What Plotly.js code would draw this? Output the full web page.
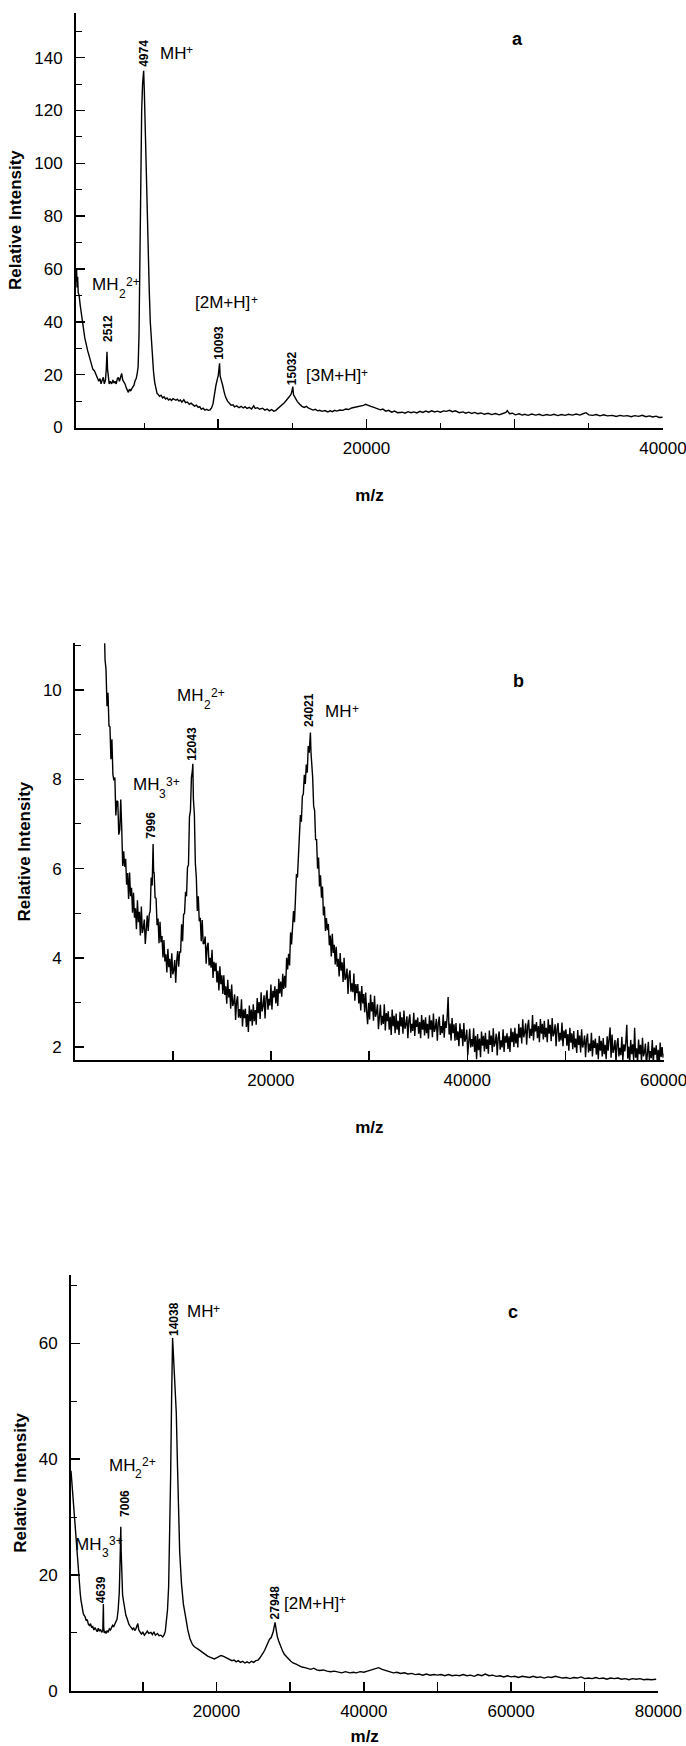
<!DOCTYPE html>
<html>
<head>
<meta charset="utf-8">
<script src="https://cdn.plot.ly/plotly-3.0.1.min.js"></script>
<style>html,body{margin:0;padding:0;background:#fff;}#chart{width:686px;height:1746px;}</style>
</head>
<body>
<div id="chart"></div>
<script>
// ---------- DATA ----------
// Panel a: [m/z, relative intensity]
const specA = [[410,55],[450,60],[480,53],[520,57],[560,51],[620,50],[700,46],[800,41],[900,38],[1000,34],[1100,31],[1200,29],[1300,27],[1400,25],[1470,24],[1550,22],[1650,21.5],[1750,20],[1850,18.5],[1950,17.5],[2030,18.5],[2100,16.5],[2180,18],[2253,19],[2320,16.5],[2400,18],[2450,22],[2500,28.7],[2540,22],[2590,18],[2650,16.5],[2720,17.5],[2815,16.5],[2900,18],[2970,16.8],[3040,17.5],[3120,16.5],[3200,18.5],[3265,18.9],[3340,17.5],[3420,19.5],[3490,20.5],[3560,18],[3640,17.2],[3715,16.5],[3800,15],[3870,14.2],[3940,13.3],[4020,14.5],[4100,13.8],[4165,14.6],[4250,15.5],[4320,16],[4390,17.6],[4470,18.5],[4540,20.5],[4600,23],[4660,35],[4720,70],[4780,100],[4840,120],[4900,130],[4974,135],[5020,127],[5080,112],[5130,100],[5180,88],[5230,78],[5290,68],[5350,52],[5420,40],[5500,31],[5570,25],[5640,21],[5720,17],[5800,14.5],[5880,12.8],[5960,12.5],[6050,11.8],[6150,12.2],[6250,11.2],[6350,11.6],[6450,10.8],[6550,11.2],[6650,10.4],[6750,10.8],[6850,10.2],[6950,10.9],[7050,10.6],[7150,10.3],[7250,10.7],[7350,10],[7450,10.4],[7550,9.6],[7680,10.5],[7800,9.4],[7920,9.6],[8050,8.8],[8170,9.2],[8270,8.6],[8400,8.1],[8530,8.5],[8650,7.6],[8760,7.9],[8860,6.9],[8980,7.3],[9100,6.6],[9220,6.9],[9330,6.5],[9450,6.7],[9560,7.5],[9650,9],[9750,13],[9850,16],[9950,18.5],[10000,19.5],[10050,22],[10093,24.3],[10130,19.5],[10200,18.2],[10300,16],[10400,13.5],[10500,11.5],[10630,10],[10750,9],[10870,8.4],[11000,8.6],[11100,7.8],[11250,8.2],[11400,7.5],[11550,8],[11700,7.4],[11810,7.9],[11950,7.2],[12100,7.6],[12250,7],[12400,8.2],[12500,7.2],[12650,7.5],[12800,6.9],[12990,7.3],[13150,6.6],[13300,7],[13450,6.3],[13600,6.8],[13750,6.2],[13870,6.4],[14000,7],[14150,7.8],[14300,8.6],[14460,9.4],[14600,10.3],[14750,11.5],[14900,12.4],[14960,13.4],[15032,15.5],[15080,12.4],[15200,11],[15340,9.8],[15500,8.8],[15650,8],[15800,7.6],[15950,8],[16100,7.3],[16220,7.1],[16400,6.6],[16550,6.9],[16700,6.3],[16850,6.5],[17000,6.1],[17200,6.4],[17400,5.9],[17550,6.3],[17700,6],[17850,6.5],[18000,6.2],[18200,6.6],[18400,6.5],[18600,7],[18800,6.8],[19000,7.4],[19200,7.6],[19400,8],[19600,8.2],[19800,8.4],[19940,8.8],[20100,8.3],[20300,8],[20500,7.6],[20700,7.1],[20940,6.7],[21100,7],[21300,6.2],[21500,6.5],[21700,5.8],[21900,6.2],[22100,5.6],[22420,5.8],[22600,5.4],[22800,6],[23000,5.6],[23200,5.9],[23400,5.5],[23600,6.1],[23800,5.7],[24000,6.2],[24200,5.8],[24400,6.3],[24600,5.9],[24780,6.2],[25000,5.8],[25200,6.3],[25400,6.1],[25600,6.5],[25800,6],[26000,6.3],[26260,5.6],[26500,5.9],[26700,5.4],[26900,5.8],[27100,5.3],[27300,5.7],[27500,5.2],[27730,5.5],[27950,5],[28200,5.4],[28450,4.9],[28700,5.3],[28950,4.8],[29200,5.3],[29400,5.7],[29500,6.4],[29650,5.2],[29850,5.4],[30050,4.8],[30300,5.2],[30500,4.7],[30680,5],[30900,4.6],[31150,5.1],[31400,4.7],[31650,5],[31900,4.5],[32150,4.9],[32400,4.6],[32650,5],[32900,4.5],[33150,4.9],[33400,4.6],[33630,5],[33900,4.7],[34150,5.1],[34400,4.7],[34600,5.2],[34810,5.6],[35000,4.8],[35250,4.6],[35500,4.9],[35750,4.4],[36000,4.8],[36250,4.4],[36580,4.6],[36850,4.2],[37100,4.6],[37350,4.3],[37600,4.5],[37850,4.1],[38100,4.5],[38350,4.2],[38600,4.6],[38850,4.1],[39100,4.4],[39300,4],[39530,4.3],[39750,3.8],[39970,3.9]];

// Panel b: [m/z, relative intensity]
const specB = [[3000,11.76],[3100,10.68],[3200,10.46],[3300,9.64],[3400,9.94],[3500,9.2],[3600,9.18],[3700,8.45],[3800,8.9],[3900,8.11],[4000,7.98],[4100,8.04],[4200,7.19],[4300,7.52],[4400,7.5],[4500,6.76],[4600,6.87],[4700,7.55],[4800,6.91],[4900,6.06],[5000,6.39],[5100,6.04],[5200,6.22],[5300,5.64],[5400,5.9],[5500,5.32],[5600,5.91],[5700,5.38],[5800,5.57],[5900,5.01],[6000,5.46],[6100,4.9],[6200,5.11],[6300,4.64],[6400,5.29],[6500,4.8],[6600,5.03],[6700,4.5],[6800,5.15],[6900,4.56],[7000,4.66],[7100,4.86],[7200,4.31],[7300,4.75],[7400,4.95],[7500,4.6],[7600,4.97],[7700,5.05],[7800,5.8],[7900,5.62],[7996,6.55],[8050,5.9],[8100,5.92],[8200,5.35],[8300,5.33],[8400,4.73],[8500,4.88],[8600,4.33],[8700,4.81],[8800,4.35],[8900,4.49],[9000,4.01],[9100,4.4],[9200,3.92],[9300,4.08],[9400,3.67],[9500,4.2],[9600,3.79],[9700,3.98],[9800,3.55],[9900,4.1],[10000,3.63],[10100,3.72],[10200,3.95],[10300,3.44],[10400,3.93],[10500,4.15],[10600,3.8],[10700,4.14],[10800,4.12],[10900,4.75],[11000,4.37],[11100,4.97],[11200,5.0],[11300,5.48],[11400,5.38],[11500,6.03],[11600,6.08],[11700,7.16],[11800,7.3],[11900,8.04],[12000,8.2],[12043,8.35],[12100,7.56],[12200,7.22],[12300,6.12],[12400,5.8],[12500,5.05],[12600,5.38],[12700,4.82],[12800,4.9],[12900,4.37],[13000,4.85],[13100,4.31],[13200,4.33],[13300,4.48],[13400,3.87],[13500,4.25],[13600,4.34],[13700,3.83],[13800,4.0],[13900,3.78],[14000,4.18],[14100,3.55],[14200,3.91],[14300,3.7],[14400,3.89],[14500,3.45],[14600,3.71],[14700,3.27],[14800,3.81],[14900,3.41],[15000,3.61],[15100,3.19],[15200,3.61],[15300,3.17],[15400,3.36],[15500,2.97],[15600,3.51],[15700,3.11],[15800,3.3],[15900,2.86],[16000,3.4],[16100,2.92],[16200,2.99],[16300,3.18],[16400,2.61],[16500,3.02],[16600,3.14],[16700,2.66],[16800,2.85],[16900,2.65],[17000,3.07],[17100,2.46],[17200,2.84],[17300,2.65],[17400,2.86],[17500,2.45],[17600,2.74],[17700,2.34],[17800,2.93],[17900,2.58],[18000,2.84],[18100,2.48],[18200,2.96],[18300,2.58],[18400,2.83],[18500,2.5],[18600,3.1],[18700,2.76],[18800,3.01],[18900,2.63],[19000,3.23],[19100,2.8],[19200,2.92],[19300,3.16],[19400,2.64],[19500,3.1],[19600,3.27],[19700,2.84],[19800,3.08],[19900,2.93],[20000,3.4],[20100,2.84],[20200,3.26],[20300,3.11],[20400,3.36],[20500,2.98],[20600,3.3],[20700,2.92],[20800,3.53],[20900,3.2],[21000,3.47],[21100,3.13],[21200,3.64],[21300,3.3],[21400,3.6],[21500,3.33],[21600,4.0],[21700,3.74],[21800,4.09],[21900,3.83],[22000,4.57],[22100,4.3],[22200,4.6],[22300,5.05],[22400,4.8],[22500,5.48],[22600,5.88],[22700,5.8],[22800,6.34],[22900,6.5],[23000,7.2],[23100,7.05],[23200,7.62],[23300,7.67],[23400,8.1],[23500,7.9],[23600,8.33],[23700,8.15],[23800,8.75],[23900,8.6],[23960,8.8],[24021,9.05],[24080,8.6],[24150,8.35],[24250,8.05],[24350,7.4],[24450,7.3],[24550,6.65],[24650,6.65],[24750,6.0],[24850,6.25],[24950,5.6],[25050,5.85],[25150,5.35],[25250,5.6],[25350,4.95],[25450,5.15],[25550,4.6],[25650,4.89],[25750,4.62],[25850,4.76],[25950,4.28],[26050,4.5],[26150,4.03],[26250,4.54],[26350,4.11],[26450,4.29],[26550,3.85],[26650,4.25],[26750,3.8],[26850,3.98],[26950,3.58],[27050,4.11],[27150,3.71],[27250,3.9],[27350,3.46],[27450,4.0],[27550,3.51],[27650,3.57],[27750,3.76],[27850,3.19],[27950,3.6],[28050,3.72],[28150,3.24],[28250,3.43],[28350,3.23],[28450,3.65],[28550,3.04],[28650,3.41],[28750,3.21],[28850,3.41],[28950,2.98],[29050,3.25],[29150,2.82],[29250,3.37],[29350,2.98],[29450,3.19],[29550,2.78],[29650,3.22],[29750,2.8],[29850,2.51],[29950,2.99],[30050,2.62],[30150,3.18],[30250,2.8],[30350,3.01],[30450,2.59],[30550,3.15],[30650,2.68],[30750,2.76],[30850,2.96],[30950,2.4],[31050,2.82],[31150,2.95],[31250,2.49],[31350,2.7],[31450,2.52],[31550,2.96],[31650,2.37],[31750,2.76],[31850,2.58],[31950,2.8],[32050,2.39],[32150,2.68],[32250,2.27],[32350,2.84],[32450,2.47],[32550,2.7],[32650,2.31],[32750,2.75],[32850,2.39],[32950,2.59],[33050,2.27],[33150,2.79],[33250,2.46],[33350,2.67],[33450,2.3],[33550,2.82],[33650,2.41],[33750,2.5],[33850,2.69],[33950,2.2],[34050,2.6],[34150,2.73],[34250,2.32],[34350,2.52],[34450,2.36],[34550,2.77],[34650,2.25],[34750,2.61],[34850,2.45],[34950,2.66],[35050,2.3],[35150,2.56],[35250,2.2],[35350,2.72],[35450,2.39],[35550,2.61],[35650,2.26],[35750,2.67],[35850,2.31],[35950,2.52],[36050,2.19],[36150,2.71],[36250,2.39],[36350,2.6],[36450,2.22],[36550,2.75],[36650,2.34],[36750,2.43],[36850,2.63],[36950,2.14],[37050,2.54],[37150,2.68],[37250,2.27],[37350,2.47],[37450,2.31],[37550,2.73],[37650,2.21],[37750,2.58],[37850,2.43],[37950,2.66],[38050,3.12],[38150,2.28],[38250,2.53],[38350,2.15],[38450,2.65],[38550,2.31],[38650,2.51],[38750,2.14],[38850,2.54],[38950,2.16],[39050,2.35],[39150,2.02],[39250,2.53],[39350,2.2],[39450,2.4],[39550,2.02],[39650,2.54],[39750,2.12],[39850,2.2],[39950,2.39],[40050,1.82],[40150,2.28],[40250,2.41],[40350,1.99],[40450,2.18],[40550,2.01],[40650,2.42],[40750,1.89],[40850,2.25],[40950,1.73],[41050,2.29],[41150,1.93],[41250,2.19],[41350,1.77],[41450,2.35],[41550,2.03],[41650,2.25],[41750,1.9],[41850,2.32],[41950,1.96],[42050,2.17],[42150,1.85],[42250,2.37],[42350,2.05],[42450,2.26],[42550,1.89],[42650,2.42],[42750,2.01],[42850,2.1],[42950,2.3],[43050,1.81],[43150,2.21],[43250,2.35],[43350,1.94],[43450,2.15],[43550,1.99],[43650,2.4],[43750,1.89],[43850,2.25],[43950,2.1],[44050,2.31],[44150,1.96],[44250,2.24],[44350,1.89],[44450,2.42],[44550,2.11],[44650,2.34],[44750,2.0],[44850,2.43],[44950,2.08],[45050,2.3],[45150,1.99],[45250,2.52],[45350,2.21],[45450,2.44],[45550,2.08],[45650,2.62],[45750,2.22],[45850,2.32],[45950,2.53],[46050,2.05],[46150,2.46],[46250,2.61],[46350,2.2],[46450,2.41],[46550,2.25],[46650,2.72],[46750,2.15],[46850,2.51],[46950,2.35],[47050,2.56],[47150,2.2],[47250,2.47],[47350,2.11],[47450,2.63],[47550,2.3],[47650,2.52],[47750,2.17],[47850,2.59],[47950,2.22],[48050,2.43],[48150,2.11],[48250,2.62],[48350,2.3],[48450,2.5],[48550,2.13],[48650,2.65],[48750,2.24],[48850,2.32],[48950,2.51],[49050,2.02],[49150,2.41],[49250,2.54],[49350,2.12],[49450,2.32],[49550,2.15],[49650,2.55],[49750,2.02],[49850,2.37],[49950,2.2],[50050,2.4],[50150,2.03],[50250,2.29],[50350,1.92],[50450,2.43],[50550,2.1],[50650,2.31],[50750,1.95],[50850,2.36],[50950,1.99],[51050,2.19],[51150,1.87],[51250,2.38],[51350,2.05],[51450,2.26],[51550,1.88],[51650,2.4],[51750,1.99],[51850,2.07],[51950,2.26],[52050,1.77],[52150,2.16],[52250,2.3],[52350,1.88],[52450,2.08],[52550,1.91],[52650,2.32],[52750,1.79],[52850,2.15],[52950,1.98],[53050,2.19],[53150,1.83],[53250,2.09],[53350,1.73],[53450,2.25],[53550,1.92],[53650,2.14],[53750,1.79],[53850,2.2],[53950,1.84],[54050,2.05],[54150,1.73],[54250,2.24],[54350,1.92],[54450,2.13],[54550,2.44],[54650,1.76],[54750,2.28],[54850,1.87],[54950,1.96],[55050,2.16],[55150,1.66],[55250,2.06],[55350,2.2],[55450,1.79],[55550,1.98],[55650,1.82],[55750,2.23],[55850,1.71],[55950,2.06],[56050,1.9],[56150,2.11],[56250,2.5],[56350,1.74],[56450,2.01],[56550,1.65],[56650,2.16],[56750,1.84],[56850,2.06],[56950,1.71],[57050,2.43],[57150,1.76],[57250,1.97],[57350,1.65],[57450,2.17],[57550,1.84],[57650,2.05],[57750,1.68],[57850,2.21],[57950,1.79],[58050,1.88],[58150,2.08],[58250,1.59],[58350,1.99],[58450,2.12],[58550,1.71],[58650,1.91],[58750,1.75],[58850,2.16],[58950,1.63],[59050,1.99],[59150,1.83],[59250,2.04],[59350,1.68],[59450,1.94],[59550,1.58],[59650,2.1],[59750,1.78],[59850,2.0],[59950,1.76],[60000,1.85]];

// Panel c: [m/z, relative intensity]
const specC = [[244,38],[300,37],[405,35.5],[500,34],[600,32.5],[702,30.8],[800,28],[900,26],[998,24.7],[1100,22.8],[1200,21.2],[1295,19.9],[1400,18.2],[1500,16.8],[1592,15.7],[1700,14.6],[1800,13.9],[1900,13.4],[2000,13.1],[2186,12.7],[2300,12.1],[2450,12.3],[2600,11.5],[2780,11.2],[2900,11.6],[3050,10.9],[3200,11.1],[3350,10.5],[3500,10.9],[3671,10.6],[3800,10.2],[3950,10.8],[4100,10.3],[4250,10.6],[4400,10.1],[4562,10.4],[4600,12],[4639,15],[4680,11],[4750,10],[4850,10.3],[5000,9.9],[5156,10.4],[5300,10.1],[5450,10.7],[5600,10.5],[5750,10.9],[5900,11.3],[6050,11.1],[6200,11.6],[6343,11.8],[6500,12.4],[6640,13.9],[6800,17],[6900,22],[6960,26],[7006,28.3],[7060,24],[7150,19],[7250,16.5],[7412,15.2],[7550,13.8],[7700,13],[7829,12.6],[7950,12],[8100,11.5],[8250,11.2],[8423,10.9],[8600,10.6],[8750,10.9],[8900,10.4],[9050,10.7],[9200,11.2],[9314,11.6],[9450,10.5],[9600,10.2],[9800,9.8],[10000,10.1],[10205,9.6],[10400,9.9],[10600,10.3],[10800,9.9],[11096,10.1],[11300,9.7],[11500,10.2],[11700,9.6],[11987,9.9],[12200,9.5],[12450,9.6],[12700,9.3],[12900,9.7],[13050,10.3],[13175,11.5],[13350,14],[13500,18],[13650,26],[13769,36.8],[13900,50],[14000,58],[14038,60.9],[14150,58],[14300,54],[14450,51],[14540,48],[14700,39],[14839,31],[15000,24],[15245,18.5],[15500,15],[15840,12.5],[16100,10.5],[16400,9],[16730,8],[17000,7.6],[17300,7.4],[17600,7.1],[17920,6.8],[18200,6.5],[18500,6.2],[18800,6],[19110,5.8],[19400,5.6],[19700,5.5],[20000,5.7],[20300,5.9],[20600,6.1],[20890,6],[21200,5.8],[21500,5.6],[21800,5.4],[22100,5.2],[22400,5.3],[22675,5],[22950,5.2],[23250,4.9],[23550,5.1],[23850,4.8],[24150,5],[24455,4.8],[24750,5.1],[25050,4.9],[25350,5.2],[25650,5.3],[25900,5.7],[26150,6.1],[26350,6.6],[26540,7],[26800,7.8],[27000,8.4],[27200,8.9],[27430,9.2],[27700,10.2],[27948,11.8],[28100,10.2],[28250,9.4],[28440,8.6],[28700,7.6],[29000,6.8],[29210,6.3],[29500,5.8],[29800,5.5],[30100,5.1],[30400,4.8],[30800,4.6],[31200,4.3],[31600,4.1],[32000,4],[32400,3.8],[32800,3.7],[33200,3.9],[33600,3.6],[34000,3.5],[34500,3.6],[35000,3.4],[35500,3.3],[36000,3.4],[36500,3.2],[37000,3.1],[37500,3.3],[38100,3.1],[38600,3.2],[39000,3.1],[39500,3.3],[40000,3.2],[40500,3.4],[41000,3.6],[41500,3.8],[42000,4],[42500,3.7],[43000,3.5],[43500,3.3],[44000,3.1],[44500,3.2],[45000,3],[45500,3.1],[46000,2.9],[46500,3],[47000,2.8],[47500,2.9],[48000,2.7],[48500,2.9],[49000,2.7],[49500,2.8],[50000,2.7],[50500,2.8],[51000,2.6],[51500,2.8],[52000,2.6],[52500,2.7],[53000,2.6],[53500,2.8],[54000,2.6],[54500,2.7],[55000,2.5],[55500,2.8],[56000,2.6],[56500,2.9],[57000,2.6],[57500,2.7],[58000,2.5],[58500,2.6],[59000,2.4],[59500,2.6],[60000,2.4],[60500,2.5],[61000,2.3],[61500,2.5],[62000,2.4],[62500,2.3],[63000,2.5],[63500,2.3],[64000,2.4],[64500,2.2],[65000,2.4],[65500,2.3],[66000,2.5],[66500,2.3],[67000,2.2],[67500,2.3],[68000,2.1],[68500,2.3],[69000,2.2],[69500,2.4],[70000,2.1],[70500,2.2],[71000,2.1],[71500,2.3],[72000,2.1],[72500,2.2],[73000,2],[73500,2.2],[74000,2.1],[74500,2.2],[75000,2],[75500,2.1],[76000,1.9],[76500,2.1],[77000,2],[77500,2.1],[78000,1.9],[78500,2],[79000,1.9],[79700,2]];

// Peak m/z labels and ion labels ([main, subscript, superscript])
const peaksA = ['2512', '4974', '10093', '15032'];
const ionsA  = [['MH', '2', '2+'], ['MH', '', '+'], ['[2M+H]', '', '+'], ['[3M+H]', '', '+']];
const peaksB = ['7996', '12043', '24021'];
const ionsB  = [['MH', '3', '3+'], ['MH', '2', '2+'], ['MH', '', '+']];
const peaksC = ['4639', '7006', '14038', '27948'];
const ionsC  = [['MH', '3', '3+'], ['MH', '2', '2+'], ['MH', '', '+'], ['[2M+H]', '', '+']];
const panelLetters = ['a', 'b', 'c'];
const xTitle = 'm/z';
const yTitle = 'Relative Intensity';

// ---------- CHART ----------
const FONT = 'Liberation Sans, Arial, Helvetica, sans-serif';
const W = 686, H = 1746;
const ION_SIZE = 17, IDX_SIZE = 12;

const ctx = document.createElement('canvas').getContext('2d');
function measure(t, size) { ctx.font = size + 'px "Liberation Sans", Arial, sans-serif'; return ctx.measureText(t).width; }

function line(spec, xa, ya, w) {
  return {x: spec.map(p => p[0]), y: spec.map(p => p[1]), xaxis: xa, yaxis: ya,
          type: 'scatter', mode: 'lines', line: {color: '#000', width: w},
          hoverinfo: 'skip', showlegend: false};
}

function xAxis(domPx, range, minorDt, anchor) {
  const ax = {
    domain: [domPx[0] / W, domPx[1] / W], range: range, anchor: anchor,
    showline: true, linecolor: '#000', linewidth: 2, mirror: false,
    ticks: 'inside', ticklen: 9, tickwidth: 1.5, tickcolor: '#000',
    tickmode: 'linear', tick0: 0, dtick: 10000, ticklabelstep: 2, tickformat: 'd',
    ticklabelstandoff: 4, ticklabeloverflow: 'allow',
    tickfont: {family: FONT, size: 17, color: '#000'},
    showgrid: false, zeroline: false, fixedrange: true,
    title: {text: '<b>' + xTitle + '</b>', font: {family: FONT, size: 17, color: '#000'}, standoff: 32}
  };
  if (minorDt) ax.minor = {ticks: 'inside', ticklen: 5, tickwidth: 1, tickcolor: '#000', dtick: minorDt, tick0: 0, showgrid: false};
  return ax;
}
function yAxis(domPx, range, dt, minorDt, anchor) {
  return {
    domain: [1 - domPx[1] / H, 1 - domPx[0] / H], range: range, anchor: anchor,
    showline: true, linecolor: '#000', linewidth: 2, mirror: false,
    ticks: 'inside', ticklen: 9, tickwidth: 1.5, tickcolor: '#000',
    tickmode: 'linear', tick0: 0, dtick: dt,
    minor: {ticks: 'inside', ticklen: 6, tickwidth: 1, tickcolor: '#000', dtick: minorDt, tick0: 0, showgrid: false},
    ticklabelstandoff: 8, ticklabeloverflow: 'allow',
    tickfont: {family: FONT, size: 17, color: '#000'},
    showgrid: false, zeroline: false, fixedrange: true,
    title: {text: '<b>' + yTitle + '</b>', font: {family: FONT, size: 17, color: '#000'}, standoff: 8}
  };
}

const ann = [];
function peakLab(t, x, y, xr, yr) {
  ann.push({text: '<b>' + t + '</b>', x: x, y: y, xref: xr, yref: yr, showarrow: false,
            textangle: -90, xanchor: 'center', yanchor: 'middle',
            font: {family: FONT, size: 12, color: '#000'}});
}
// ion label: main text, then subscript, then superscript, centred on (x, y)
function ionLab(parts, x, y, xr, yr) {
  const main = parts[0], sub = parts[1], sup = parts[2];
  const wm = measure(main, ION_SIZE), ws = sub ? measure(sub, IDX_SIZE) : 0, wp = sup ? measure(sup, IDX_SIZE) : 0;
  let off = -(wm + ws + wp) / 2;
  const base = {x: x, y: y, xref: xr, yref: yr, showarrow: false, xanchor: 'left', yanchor: 'middle',
                borderpad: 0, borderwidth: 0};
  ann.push(Object.assign({}, base, {text: main, xshift: off, font: {family: FONT, size: ION_SIZE, color: '#000'}}));
  off += wm;
  if (sub) {
    ann.push(Object.assign({}, base, {text: sub, xshift: off, yshift: -9, font: {family: FONT, size: IDX_SIZE, color: '#000'}}));
    off += ws;
  }
  if (sup) {
    ann.push(Object.assign({}, base, {text: sup, xshift: off, yshift: 3, font: {family: FONT, size: IDX_SIZE, color: '#000'}}));
  }
}
function letter(t, x, y, xr, yr) {
  ann.push({text: '<b>' + t + '</b>', x: x, y: y, xref: xr, yref: yr, showarrow: false,
            xanchor: 'center', yanchor: 'middle', font: {family: FONT, size: 18, color: '#000'}});
}

// panel a
peakLab(peaksA[0], 2570, 37.3, 'x', 'y');
peakLab(peaksA[1], 4977, 141.7, 'x', 'y');
peakLab(peaksA[2], 10034, 32, 'x', 'y');
peakLab(peaksA[3], 14990, 22.5, 'x', 'y');
ionLab(ionsA[0], 3096, 54, 'x', 'y');
ionLab(ionsA[1], 7189, 141.6, 'x', 'y');
ionLab(ionsA[2], 10555, 47.3, 'x', 'y');
ionLab(ionsA[3], 18000, 19.5, 'x', 'y');
letter(panelLetters[0], 30185, 146.9, 'x', 'y');
// panel b
peakLab(peaksB[0], 7770, 6.98, 'x2', 'y2');
peakLab(peaksB[1], 11970, 8.8, 'x2', 'y2');
peakLab(peaksB[2], 23890, 9.56, 'x2', 'y2');
ionLab(ionsB[0], 8290, 7.88, 'x2', 'y2');
ionLab(ionsB[1], 12860, 9.88, 'x2', 'y2');
ionLab(ionsB[2], 27260, 9.52, 'x2', 'y2');
letter(panelLetters[1], 45220, 10.2, 'x2', 'y2');
// panel c
peakLab(peaksC[0], 4440, 17.5, 'x3', 'y3');
peakLab(peaksC[1], 7470, 32.3, 'x3', 'y3');
peakLab(peaksC[2], 14245, 64.2, 'x3', 'y3');
peakLab(peaksC[3], 27900, 15.2, 'x3', 'y3');
ionLab(ionsC[0], 4020, 25.3, 'x3', 'y3');
ionLab(ionsC[1], 8570, 38.9, 'x3', 'y3');
ionLab(ionsC[2], 18220, 65.4, 'x3', 'y3');
ionLab(ionsC[3], 33370, 15.1, 'x3', 'y3');
letter(panelLetters[2], 60220, 65.4, 'x3', 'y3');

const layout = {
  width: W, height: H, margin: {l: 0, r: 0, t: 0, b: 0},
  paper_bgcolor: '#fff', plot_bgcolor: '#fff', showlegend: false,
  font: {family: FONT, color: '#000'},
  xaxis:  xAxis([76, 663], [410, 40001], 5000, 'y'),
  yaxis:  yAxis([12.7, 427.5], [0, 157], 20, 10, 'x'),
  xaxis2: xAxis([75.2, 663.6], [60, 60001], 0, 'y2'),
  yaxis2: yAxis([643.3, 1060], [1.71, 11.05], 2, 1, 'x2'),
  xaxis3: xAxis([71, 658.4], [244, 80001], 0, 'y3'),
  yaxis3: yAxis([1274.9, 1690.8], [0, 71.8], 20, 10, 'x3'),
  annotations: ann
};

Plotly.newPlot('chart', [line(specA, 'x', 'y', 1.4), line(specB, 'x2', 'y2', 1.4), line(specC, 'x3', 'y3', 1.4)], layout,
  {staticPlot: true, displayModeBar: false});
</script>
</body>
</html>
